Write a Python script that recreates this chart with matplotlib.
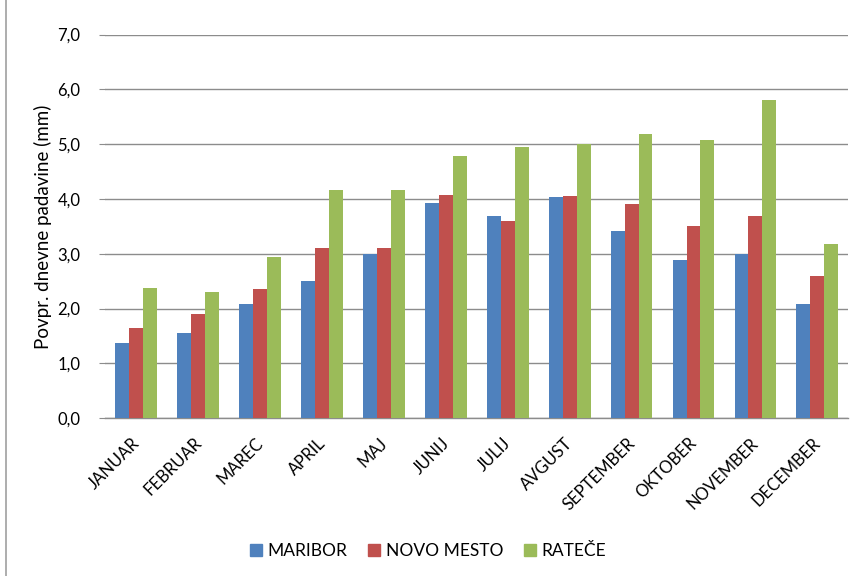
import matplotlib.pyplot as plt
import numpy as np
from matplotlib.lines import Line2D
from matplotlib.ticker import FuncFormatter

plt.rcParams['font.family'] = ['Lato', 'DejaVu Sans']

# Average daily precipitation (mm) per month
months = ['JANUAR', 'FEBRUAR', 'MAREC', 'APRIL', 'MAJ', 'JUNIJ', 'JULIJ',
          'AVGUST', 'SEPTEMBER', 'OKTOBER', 'NOVEMBER', 'DECEMBER']
maribor = [1.37, 1.55, 2.09, 2.51, 2.99, 3.92, 3.69, 4.03, 3.42, 2.89, 2.99, 2.08]
novo_mesto = [1.64, 1.90, 2.35, 3.11, 3.11, 4.07, 3.59, 4.06, 3.90, 3.51, 3.69, 2.60]
ratece = [2.38, 2.30, 2.95, 4.17, 4.17, 4.79, 4.95, 5.01, 5.19, 5.08, 5.80, 3.18]

series = [('MARIBOR', maribor, '#4F81BD'),
          ('NOVO MESTO', novo_mesto, '#C0504D'),
          ('RATEČE', ratece, '#9BBB59')]

fig = plt.figure(figsize=(8.56, 5.76), dpi=100)
ax = fig.add_axes([0.123, 0.274, 0.868, 0.666])

x = np.arange(len(months))
w = 0.225
for i, (name, vals, col) in enumerate(series):
    ax.bar(x + (i - 1) * w, vals, width=w, color=col, label=name, zorder=3)

ax.set_xlim(-0.5, len(months) - 0.5)
ax.set_ylim(0, 7)
ax.set_yticks(np.arange(0, 8, 1))
ax.yaxis.set_major_formatter(FuncFormatter(lambda v, p: f'{v:.1f}'.replace('.', ',')))
ax.grid(axis='y', color='#8c8c8c', linewidth=1, zorder=0)
for s in ['top', 'right', 'left']:
    ax.spines[s].set_visible(False)
ax.spines['bottom'].set_color('#8c8c8c')
ax.spines['bottom'].set_linewidth(1)
ax.tick_params(axis='y', length=4, color='#8c8c8c', labelsize=12, pad=14)
ax.tick_params(axis='x', length=0, pad=12)

ax.set_xticks(x - 0.08)
ax.set_xticklabels(months, rotation=45, ha='right', rotation_mode='anchor', fontsize=12)
ax.set_ylabel('Povpr. dnevne padavine (mm)', fontsize=13.5, labelpad=4)

handles = [Line2D([0], [0], marker='s', linestyle='', markersize=9,
                  markerfacecolor=c, markeredgecolor=c) for _, _, c in series]
fig.legend(handles, [n for n, _, _ in series], loc='center',
           bbox_to_anchor=(0.5, 1 - 551 / 576), ncol=3, frameon=False,
           fontsize=12.5, handlelength=0.7, handletextpad=0.3, columnspacing=1.2)

fig.add_artist(Line2D([6 / 856, 6 / 856], [0, 1], transform=fig.transFigure,
                      color='#a0a0a0', linewidth=1.2))

fig.savefig('out.png', dpi=100)
